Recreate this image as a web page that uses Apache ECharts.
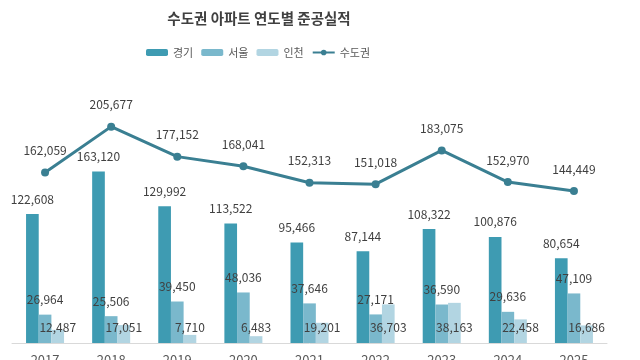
<!DOCTYPE html>
<html><head><meta charset="utf-8">
<script src="https://cdn.jsdelivr.net/npm/echarts@6/dist/echarts.min.js"></script>
<style>html,body{margin:0;padding:0;background:#fff}#c{width:640px;height:360px}</style>
</head><body><div id="c"></div>
<script>
const years = ['2017','2018','2019','2020','2021','2022','2023','2024','2025'];
const gyeonggi = [122608,163120,129992,113522,95466,87144,108322,100876,80654];
const seoul = [26964,25506,39450,48036,37646,27171,36590,29636,47109];
const incheon = [12487,17051,7710,6483,19201,36703,38163,22458,16686];
const capital = [162059,205677,177152,168041,152313,151018,183075,152970,144449];

const FONT = '"Noto Sans CJK KR", "Noto Sans", sans-serif';
const fmt = p => p.value.toLocaleString('en-US');
const lblBase = {show:true, fontFamily:FONT, fontSize:12, color:'#404040', formatter:fmt};

const chart = echarts.init(document.getElementById('c'), null, {renderer:'canvas'});
chart.setOption({
  animation:false,
  backgroundColor:'#fff',
  title:{text:'수도권 아파트 연도별 준공실적', left:254, textAlign:'center', top:6,
    textStyle:{fontFamily:FONT, fontSize:14.5, fontWeight:'bold', color:'#404040'}},
  legend:{top:42, left:141, itemWidth:22, itemHeight:7, itemGap:8,
    textStyle:{fontFamily:FONT, fontSize:11, color:'#595959'},
    data:[{name:'경기'},{name:'서울'},{name:'인천'},{name:'수도권'}]},
  grid:{left:12, right:33, top:80, bottom:17, containLabel:false, outerBoundsMode:'none'},
  xAxis:{type:'category', data:years,
    axisLine:{lineStyle:{color:'#d9d9d9'}}, axisTick:{show:false},
    axisLabel:{fontFamily:FONT, fontSize:13, color:'#595959', margin:11}},
  yAxis:{type:'value', min:0, max:250000, show:false, splitLine:{show:false}},
  series:[
    {name:'경기', type:'bar', data:gyeonggi, barGap:'0%', barCategoryGap:'42.5%',
      itemStyle:{color:'#3e9bb2'}, label:Object.assign({}, lblBase, {position:'top', distance:9})},
    {name:'서울', type:'bar', data:seoul, barGap:'0%',
      itemStyle:{color:'#7ab8cc'}, label:Object.assign({}, lblBase, {position:'top', distance:9})},
    {name:'인천', type:'bar', data:incheon, barGap:'0%',
      itemStyle:{color:'#b2d5e2'}, label:Object.assign({}, lblBase, {position:'insideBottom', distance:10})},
    {name:'수도권', type:'line', data:capital, symbol:'circle', symbolSize:8,
      lineStyle:{color:'#3a7f92', width:3}, itemStyle:{color:'#3a7f92'},
      label:Object.assign({}, lblBase, {position:'top', distance:12}), z:5}
  ]
});
</script></body></html>
